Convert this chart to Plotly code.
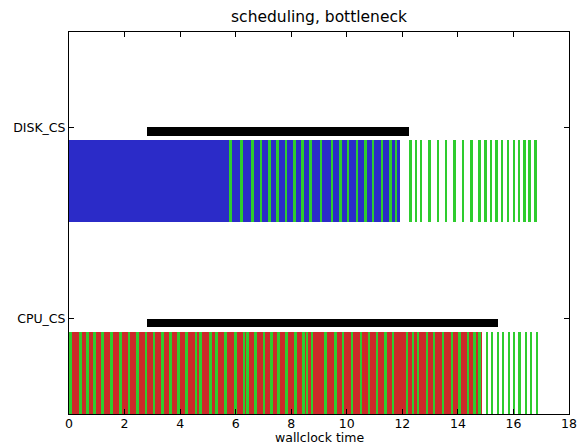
import plotly.graph_objects as go

# ---- data (x in wallclock time units) ----
rows = ["CPU_CS", "DISK_CS"]
row_pos = [5, 15]

# main busy bars (start, width)
cpu_busy = (0.0, 14.86)
disk_busy = (0.0, 11.93)

# black span bars (start, end)
cpu_span = (2.79, 15.43)
disk_span = (2.80, 12.23)

# green event markers (centers)
disk_events = [5.82, 6.22, 6.61, 6.91, 7.21, 7.51, 7.81, 8.11, 8.40, 8.70,
               9.07, 9.47, 9.76, 10.04, 10.37, 10.66, 10.94, 11.27, 11.56, 11.77,
               12.28, 12.49, 12.67, 12.99, 13.28, 13.57, 13.89, 14.18, 14.49, 14.79,
               14.99, 15.19, 15.39, 15.59, 15.80, 16.02, 16.20, 16.41, 16.59, 16.80]
cpu_events = [0.05, 0.42, 0.66, 0.93, 1.21, 1.54, 1.84, 2.16, 2.46, 2.77,
              3.06, 3.37, 3.64, 3.93, 4.24, 4.57, 4.72, 5.10, 5.32, 5.64,
              6.00, 6.30, 6.42, 6.72, 7.02, 7.30, 7.53, 7.84, 8.14, 8.43,
              8.57, 8.75, 9.22, 9.58, 9.86, 10.19, 10.51, 10.80, 11.09, 11.38,
              11.66, 12.17, 12.38, 12.56, 12.89, 13.14, 13.46, 13.79, 14.07, 14.36,
              14.61, 14.79, 15.05, 15.23, 15.44, 15.62, 15.84, 16.02, 16.23, 16.45,
              16.63, 16.85]

bar_h = 4.27          # height of busy bars
span_lo, span_hi = 4.53, 4.97   # black span offsets above row base
ev_w = 0.1

BLUE = "#2b2bc8"
RED = "#cc2929"
GREEN = "#2ecc2e"

cpu_base, disk_base = 0.0, 10.05

fig = go.Figure()

def hbar(starts, widths, ylo, h, color):
    fig.add_trace(go.Bar(
        orientation="h",
        base=list(starts),
        x=list(widths),
        y=[ylo + h / 2] * len(starts),
        width=[h] * len(starts),
        marker=dict(color=color, line=dict(width=0)),
        hoverinfo="skip",
        showlegend=False,
    ))

# busy bars
hbar([disk_busy[0]], [disk_busy[1]], disk_base, bar_h, BLUE)
hbar([cpu_busy[0]], [cpu_busy[1]], cpu_base, bar_h, RED)
# events
hbar([c - ev_w / 2 for c in disk_events], [ev_w] * len(disk_events), disk_base, bar_h, GREEN)
hbar([max(c - ev_w / 2, 0) for c in cpu_events], [ev_w] * len(cpu_events), cpu_base, bar_h, GREEN)
# spans
hbar([disk_span[0]], [disk_span[1] - disk_span[0]], disk_base + span_lo, span_hi - span_lo, "black")
hbar([cpu_span[0]], [cpu_span[1] - cpu_span[0]], cpu_base + span_lo, span_hi - span_lo, "black")

font = "DejaVu Sans"
fig.update_layout(
    width=579, height=447,
    margin=dict(l=69, r=10, t=32, b=33, autoexpand=False),
    paper_bgcolor="white", plot_bgcolor="white",
    barmode="overlay", bargap=0,
    font=dict(family=font, size=13, color="black"),
    title=dict(text="scheduling, bottleneck", x=0.551, xanchor="center",
               y=1 - 17 / 447, yanchor="middle", yref="container",
               font=dict(family=font, size=15.5, color="black")),
    xaxis=dict(range=[0, 18], tickvals=list(range(0, 19, 2)), ticks="inside",
               ticklen=5, tickcolor="black", mirror="ticks", showline=True,
               linecolor="black", linewidth=1, showgrid=False, zeroline=False,
               automargin=False, tickfont=dict(size=12.5), ticklabelstandoff=-2),
    yaxis=dict(range=[0, 20], tickvals=row_pos, ticktext=rows, ticks="inside",
               ticklen=5, tickcolor="black", mirror="ticks", showline=True,
               linecolor="black", linewidth=1, showgrid=False, zeroline=False,
               automargin=False, tickfont=dict(size=12.5)),
    annotations=[dict(text="wallclock time", xref="paper", yref="paper",
                      x=0.5, y=0, yshift=-32, xanchor="center", yanchor="bottom",
                      borderpad=0, showarrow=False, font=dict(family=font, size=12.5))],
)

fig.write_html("out.html")
